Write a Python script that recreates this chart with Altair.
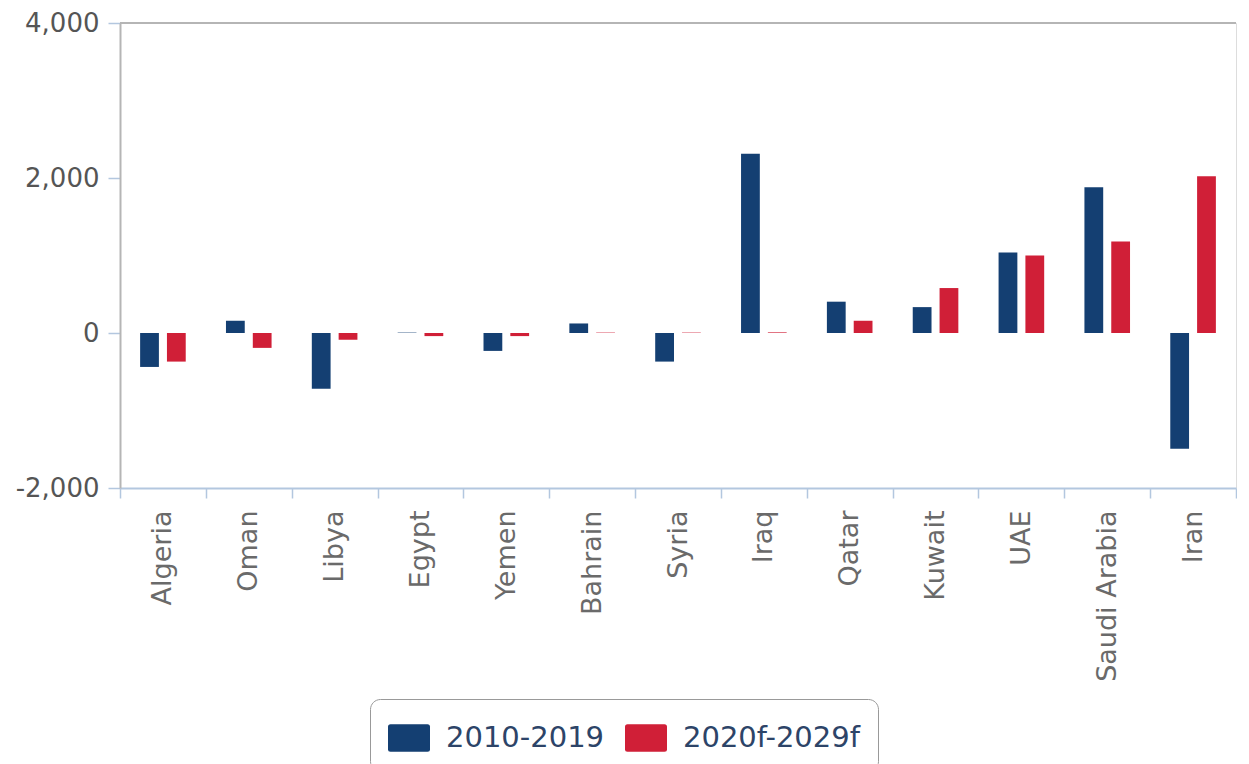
import altair as alt
import pandas as pd

countries = ["Algeria", "Oman", "Libya", "Egypt", "Yemen", "Bahrain", "Syria",
             "Iraq", "Qatar", "Kuwait", "UAE", "Saudi Arabia", "Iran"]
v_2010_2019 = [-438, 158, -719, 5, -231, 123, -369, 2312, 404, 334, 1039, 1881, -1492]
v_2020f_2029f = [-369, -192, -88, -40, -40, 5, 5, 8, 158, 580, 1000, 1181, 2023]
series_names = ["2010-2019", "2020f-2029f"]
series_colors = ["#143f72", "#d01f37"]
y_ticks = [-2000, 0, 2000, 4000]

rows = []
for i, c in enumerate(countries):
    rows.append({"country": c, "series": series_names[0], "value": v_2010_2019[i]})
    rows.append({"country": c, "series": series_names[1], "value": v_2020f_2029f[i]})
df = pd.DataFrame(rows)

FONT = "DejaVu Sans"
rect_path = ("M-0.88,-0.65 H0.88 Q1,-0.65 1,-0.53 V0.53 Q1,0.65 0.88,0.65 "
             "H-0.88 Q-1,0.65 -1,0.53 V-0.53 Q-1,-0.65 -0.88,-0.65 Z")

bars = alt.Chart(df).mark_bar().encode(
    x=alt.X("country:N", sort=countries,
            scale=alt.Scale(paddingInner=0, paddingOuter=0),
            axis=alt.Axis(title=None, labelAngle=-90, labelFont=FONT, labelFontSize=27,
                          labelColor="#6a6a6a", labelLimit=300, labelPadding=12,
                          domainColor="#b3c7df", domainWidth=2, tickColor="#b3c7df",
                          tickWidth=1.5, tickSize=10, tickBand="extent", grid=False)),
    xOffset=alt.XOffset("series:N", sort=series_names,
                        scale=alt.Scale(paddingInner=0.3, paddingOuter=0.75)),
    y=alt.Y("value:Q",
            scale=alt.Scale(domain=[-2000, 4000], nice=False, zero=True),
            axis=alt.Axis(title=None, values=y_ticks,
                          labelExpr="replace(format(datum.value, ',.0f'), '\u2212', '-')",
                          labelFont=FONT,
                          labelFontSize=26, labelColor="#555555", labelPadding=9,
                          domainColor="#b5b5b5", domainWidth=2, tickColor="#b3c7df",
                          tickWidth=1.5, tickSize=12, grid=False)),
    color=alt.Color("series:N", sort=series_names,
                    scale=alt.Scale(domain=series_names, range=series_colors),
                    legend=alt.Legend(title=None, orient="none", direction="horizontal",
                                      legendX=250, legendY=676,
                                      labelFont=FONT, labelFontSize=29, labelColor="#2d4468",
                                      labelLimit=400,
                                      symbolType=rect_path, symbolSize=1764,
                                      symbolStrokeWidth=0, symbolOpacity=1,
                                      labelOffset=16, columnPadding=20,
                                      padding=18, strokeColor="#999999",
                                      cornerRadius=10, fillColor="#ffffff")),
)

top_rule = alt.Chart(pd.DataFrame({"y": [4000]})).mark_rule(
    color="#b5b5b5", strokeWidth=2
).encode(y=alt.Y("y:Q"))

chart = alt.layer(bars, top_rule).properties(
    width=1116, height=465,
    padding={"left": 7, "top": 2, "right": 0, "bottom": 0},
).configure_view(stroke=None).configure(background="#ffffff")

chart.save("out.html", embed_options={"renderer": "svg", "actions": False})
